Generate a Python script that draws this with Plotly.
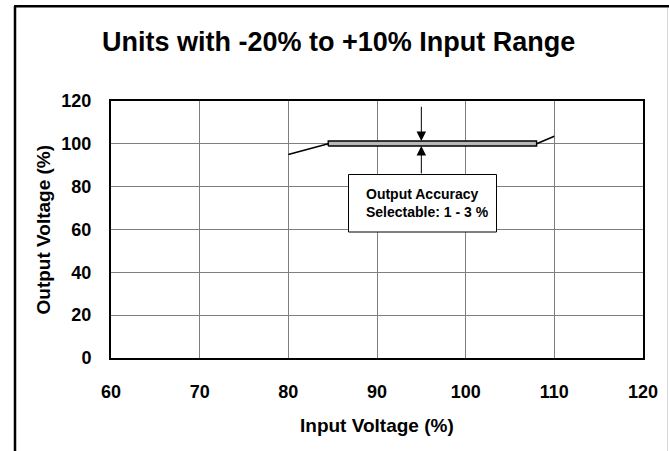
import plotly.graph_objects as go

# ---- data ----
input_v = [80, 84.5, 108, 110]          # Input Voltage (%)
output_v = [95, 100, 100, 103.5]        # Output Voltage (%)
band_x = [84.5, 108]                    # accuracy band range
band_low = [99, 99]
band_high = [101.3, 101.3]
arrow_x = 95
x_ticks = [60, 70, 80, 90, 100, 110, 120]
y_ticks = [0, 20, 40, 60, 80, 100, 120]

W, H = 669, 451
L, R, T, B = 111, 26, 101, 93
PW, PH = W - L - R, H - T - B

def px(xp):
    return (xp - L) / PW

def py(yp):
    return (H - B - yp) / PH

FONT = "Liberation Sans, Arial, sans-serif"

fig = go.Figure()

# left ramp
fig.add_trace(go.Scatter(x=input_v[:2], y=output_v[:2], mode="lines",
                         line=dict(color="black", width=1.6), showlegend=False, hoverinfo="skip"))
# right ramp
fig.add_trace(go.Scatter(x=input_v[2:], y=output_v[2:], mode="lines",
                         line=dict(color="black", width=1.6), showlegend=False, hoverinfo="skip"))
# accuracy band
bx = [band_x[0], band_x[1], band_x[1], band_x[0], band_x[0]]
by = [band_low[0], band_low[1], band_high[1], band_high[0], band_low[0]]
fig.add_trace(go.Scatter(x=bx, y=by, mode="lines", fill="toself",
                         fillcolor="#b8b8b8", line=dict(color="black", width=1.4),
                         showlegend=False, hoverinfo="skip"))

annotations = []
# arrows
annotations.append(dict(x=arrow_x, y=band_high[0], ax=arrow_x, ay=118, xref="x", yref="y",
                        axref="x", ayref="y", text="", showarrow=True, arrowhead=2,
                        arrowsize=1.9, arrowwidth=1, arrowcolor="black"))
annotations.append(dict(x=arrow_x, y=band_low[0], ax=arrow_x, ay=85.5, xref="x", yref="y",
                        axref="x", ayref="y", text="", showarrow=True, arrowhead=2,
                        arrowsize=1.9, arrowwidth=1, arrowcolor="black"))
# text inside box
annotations.append(dict(x=px(364), y=py(203), xref="paper", yref="paper",
                        text="<b>Output Accuracy<br>Selectable: 1 - 3 %</b>",
                        showarrow=False, align="left", xanchor="left", yanchor="middle",
                        font=dict(family=FONT, size=14, color="black")))
# title
annotations.append(dict(x=px(338), y=py(42), xref="paper", yref="paper",
                        text="<b>Units with -20% to +10% Input Range</b>", showarrow=False,
                        xanchor="center", yanchor="middle",
                        font=dict(family=FONT, size=27, color="black")))
# axis titles
annotations.append(dict(x=px(377), y=py(425), xref="paper", yref="paper",
                        text="<b>Input Voltage (%)</b>", showarrow=False,
                        xanchor="center", yanchor="middle",
                        font=dict(family=FONT, size=19, color="black")))
annotations.append(dict(x=px(43), y=py(229.5), xref="paper", yref="paper",
                        text="<b>Output Voltage (%)</b>", showarrow=False, textangle=-90,
                        xanchor="center", yanchor="middle",
                        font=dict(family=FONT, size=19, color="black")))

shapes = [
    # text box
    dict(type="rect", xref="paper", yref="paper", x0=px(348.5), x1=px(496.5),
         y0=py(232), y1=py(174.5), fillcolor="white", line=dict(color="black", width=1),
         layer="above"),
    # outer frame
    dict(type="line", xref="paper", yref="paper", x0=px(15), x1=px(15), y0=py(6.3), y1=py(460),
         line=dict(color="black", width=2.5)),
    dict(type="line", xref="paper", yref="paper", x0=px(14), x1=px(680), y0=py(6.3), y1=py(6.3),
         line=dict(color="black", width=2.5)),
    dict(type="line", xref="paper", yref="paper", x0=px(667.5), x1=px(667.5), y0=py(8), y1=py(460),
         line=dict(color="#d8d8d8", width=1)),
]

fig.update_layout(
    width=W, height=H,
    margin=dict(l=L, r=R, t=T, b=B),
    paper_bgcolor="white", plot_bgcolor="white",
    showlegend=False,
    annotations=annotations, shapes=shapes,
    font=dict(family=FONT, color="black"),
)
fig.update_xaxes(range=[60, 120], tickvals=x_ticks, ticktext=[f"<b>{v}</b>" for v in x_ticks],
                 showgrid=True, gridcolor="#7f7f7f", gridwidth=1,
                 showline=True, linecolor="black", linewidth=2, mirror=True,
                 zeroline=False, ticks="", ticklabelstandoff=16,
                 tickfont=dict(family=FONT, size=18, color="black"))
fig.update_yaxes(range=[0, 120], tickvals=y_ticks, ticktext=[f"<b>{v}</b>" for v in y_ticks],
                 showgrid=True, gridcolor="#7f7f7f", gridwidth=1,
                 showline=True, linecolor="black", linewidth=2, mirror=True,
                 zeroline=False, ticks="", ticklabelstandoff=14,
                 tickfont=dict(family=FONT, size=18, color="black"))

fig.write_html("out.html", config={"displayModeBar": False},
               post_script="document.body.style.margin='0';document.body.style.overflow='hidden';")
